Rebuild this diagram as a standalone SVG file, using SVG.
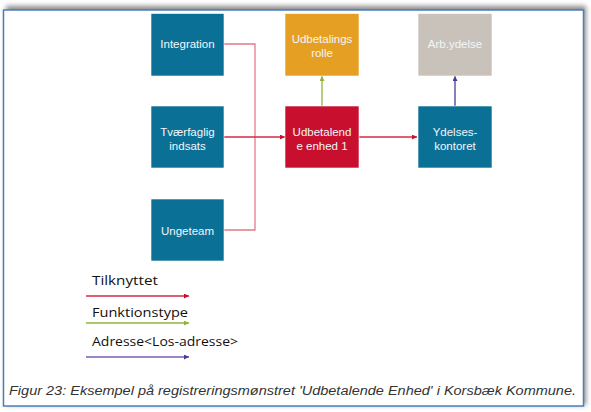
<svg xmlns="http://www.w3.org/2000/svg" width="591" height="412" viewBox="0 0 591 412">
<defs>
<filter id="sh" x="-5%" y="-5%" width="110%" height="110%"><feGaussianBlur stdDeviation="2.5"/></filter>
<marker id="aR" viewBox="0 0 10 10" refX="10" refY="5" markerWidth="5" markerHeight="5" orient="auto" markerUnits="userSpaceOnUse"><path d="M0,0 L10,5 L0,10 z" fill="#c8102e"/></marker>
<marker id="aG" viewBox="0 0 10 10" refX="10" refY="5" markerWidth="5" markerHeight="5" orient="auto" markerUnits="userSpaceOnUse"><path d="M0,0 L10,5 L0,10 z" fill="#8db53c"/></marker>
<marker id="aP" viewBox="0 0 10 10" refX="10" refY="5" markerWidth="5" markerHeight="5" orient="auto" markerUnits="userSpaceOnUse"><path d="M0,0 L10,5 L0,10 z" fill="#4b3a9a"/></marker>
</defs>
<style>
.box{stroke:#ffffff;stroke-width:0.6}
.blue{fill:#0b7096}
.orange{fill:#e5a024}
.gray{fill:#c9c2bb}
.red{fill:#c8102e}
.bt{font-family:"Liberation Sans",Arial,sans-serif;font-size:11.5px;fill:#f2f6fa;text-anchor:middle;dominant-baseline:central}
.lg{font-family:"Open Sans","DejaVu Sans",sans-serif;font-size:13.5px;font-weight:500;fill:#111111;dominant-baseline:central}
.cap{font-family:"Liberation Sans",Arial,sans-serif;font-size:12.5px;font-style:italic;fill:#333333;dominant-baseline:central}
.c{fill:none;stroke-width:1.3}
</style>
<rect x="6" y="6" width="580" height="399" fill="#8a8a8a" filter="url(#sh)"/>
<rect x="3.5" y="10" width="580" height="396" fill="#ffffff" stroke="#4a7ebb" stroke-width="1.5"/>

<g id="connectors">
<polyline class="c" points="224,44 255,44 255,137" stroke="#e47a88"/>
<polyline class="c" points="224,230 255,230 255,137" stroke="#e47a88"/>
<line class="c" x1="224" y1="137" x2="285" y2="137" stroke="#d42a45" marker-end="url(#aR)"/>
<line class="c" x1="359" y1="137" x2="417" y2="137" stroke="#d42a45" marker-end="url(#aR)"/>
<line class="c" x1="322" y1="106" x2="322" y2="76" stroke="#8db53c" marker-end="url(#aG)"/>
<line class="c" x1="455" y1="106" x2="455" y2="76" stroke="#4b3a9a" marker-end="url(#aP)"/>
</g>

<g id="integration"><rect class="box blue" x="151" y="13.5" width="73" height="62.5"/><text class="bt" x="187.5" y="44">Integration</text></g>
<g id="udbetalingsrolle"><rect class="box orange" x="285" y="13.5" width="74" height="62.5"/><text class="bt" x="322" y="38.5">Udbetalings</text><text class="bt" x="322" y="53">rolle</text></g>
<g id="arbydelse"><rect class="box gray" x="418" y="13.5" width="74" height="62.5"/><text class="bt" x="455" y="44">Arb.ydelse</text></g>
<g id="tvaerfaglig"><rect class="box blue" x="151" y="106" width="73" height="62"/><text class="bt" x="187.5" y="132">Tværfaglig</text><text class="bt" x="187.5" y="146">indsats</text></g>
<g id="udbetalende"><rect class="box red" x="285" y="106" width="74" height="62"/><text class="bt" x="322" y="131.5">Udbetalend</text><text class="bt" x="322" y="146">e enhed 1</text></g>
<g id="ydelseskontoret"><rect class="box blue" x="418" y="106" width="74" height="62"/><text class="bt" x="455" y="131.5">Ydelses-</text><text class="bt" x="455" y="146">kontoret</text></g>
<g id="ungeteam"><rect class="box blue" x="151" y="199" width="73" height="62"/><text class="bt" x="187.5" y="231">Ungeteam</text></g>

<g id="legend">
<text class="lg" x="92" y="280" textLength="66" lengthAdjust="spacingAndGlyphs">Tilknyttet</text>
<line class="c" x1="86" y1="296" x2="189" y2="296" stroke="#d42a45" marker-end="url(#aR)"/>
<text class="lg" x="92" y="312" textLength="96" lengthAdjust="spacingAndGlyphs">Funktionstype</text>
<line class="c" x1="86" y1="323" x2="189" y2="323" stroke="#8db53c" marker-end="url(#aG)"/>
<text class="lg" x="92" y="341" textLength="146" lengthAdjust="spacingAndGlyphs">Adresse&lt;Los-adresse&gt;</text>
<line class="c" x1="86" y1="357" x2="189" y2="357" stroke="#7a5cb0" marker-end="url(#aP)"/>
</g>
<text class="cap" x="9" y="391" textLength="567" lengthAdjust="spacingAndGlyphs">Figur 23: Eksempel på registreringsmønstret 'Udbetalende Enhed' i Korsbæk Kommune.</text>
</svg>
